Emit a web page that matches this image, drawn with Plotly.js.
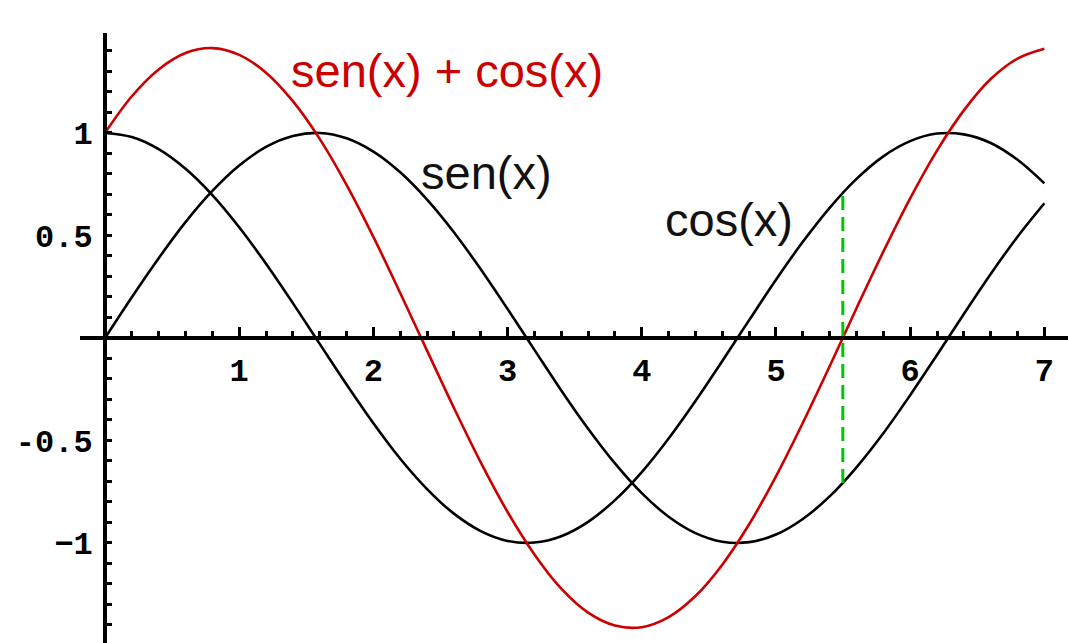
<!DOCTYPE html>
<html>
<head>
<meta charset="utf-8">
<script src="https://cdn.plot.ly/plotly-3.0.1.min.js"></script>
<style>html,body{margin:0;padding:0;background:#fff;}#chart{width:1068px;height:643px;}</style>
</head>
<body>
<div id="chart"></div>
<script>
const xs = [0,0.2,0.4,0.6,0.8,1.0,1.2,1.4,1.6,1.8,2.0,2.2,2.4,2.6,2.8,3.0,3.2,3.4,3.6,3.8,4.0,4.2,4.4,4.6,4.8,5.0,5.2,5.4,5.6,5.8,6.0,6.2,6.4,6.6,6.8,7.0];
const senValues = [0,0.199,0.389,0.565,0.717,0.841,0.932,0.985,1.000,0.974,0.909,0.808,0.675,0.516,0.335,0.141,-0.058,-0.256,-0.443,-0.612,-0.757,-0.872,-0.952,-0.994,-0.996,-0.959,-0.883,-0.773,-0.631,-0.465,-0.279,-0.083,0.117,0.312,0.494,0.657];
const cosValues = [1,0.980,0.921,0.825,0.697,0.540,0.362,0.170,-0.029,-0.227,-0.416,-0.589,-0.737,-0.857,-0.942,-0.990,-0.998,-0.967,-0.897,-0.791,-0.654,-0.490,-0.307,-0.112,0.087,0.284,0.469,0.635,0.776,0.886,0.960,0.997,0.993,0.951,0.869,0.754];
const sumValues = [1.000,1.179,1.310,1.390,1.414,1.381,1.294,1.155,0.971,0.747,0.493,0.219,-0.062,-0.341,-0.607,-0.849,-1.056,-1.223,-1.340,-1.403,-1.411,-1.362,-1.259,-1.106,-0.909,-0.675,-0.414,-0.138,0.145,0.421,0.681,0.914,1.110,1.263,1.363,1.411];
const markerX = [5.498, 5.498];
const markerY = [-0.707, 0.707];
const xTickVals = [1,2,3,4,5,6,7];
const xTickText = ['1','2','3','4','5','6','7'];
const yTickVals = [-1,-0.5,0.5,1];
const yTickText = ['\u22121','-0.5','0.5','1'];
const labelSum = 'sen(x) + cos(x)';
const labelSen = 'sen(x)';
const labelCos = 'cos(x)';

const W = 1068, H = 643;
const xRange = [-0.19, 7.176];
const yRange = [-1.488, 1.49];
const xDomain = [79.5 / W, 1];
const yDomain = [0, 1 - 32.5 / H];
const xZeroPaper = xDomain[0] + (0 - xRange[0]) / (xRange[1] - xRange[0]) * (xDomain[1] - xDomain[0]);
const yZeroPaper = yDomain[0] + (0 - yRange[0]) / (yRange[1] - yRange[0]) * (yDomain[1] - yDomain[0]);

const tickFont = {family: '"Liberation Mono", "DejaVu Sans Mono", monospace', size: 32, color: '#000', weight: 'bold'};

const traces = [
  {x: xs, y: senValues, mode: 'lines', line: {color: '#000', width: 2.6, shape: 'spline'}, hoverinfo: 'skip'},
  {x: xs, y: cosValues, mode: 'lines', line: {color: '#000', width: 2.6, shape: 'spline'}, hoverinfo: 'skip'},
  {x: xs, y: sumValues, mode: 'lines', line: {color: '#cc0000', width: 2.6, shape: 'spline'}, hoverinfo: 'skip'},
  {x: markerX, y: markerY, mode: 'lines', line: {color: '#00c800', width: 3, dash: '14px,7px'}, hoverinfo: 'skip'}
];

const layout = {
  width: W, height: H,
  margin: {l: 0, r: 0, t: 0, b: 0, pad: 0},
  paper_bgcolor: '#fff', plot_bgcolor: '#fff',
  showlegend: false,
  xaxis: {
    range: xRange, domain: xDomain, anchor: 'free', position: yZeroPaper,
    showline: true, linewidth: 4, linecolor: '#000',
    showgrid: false, zeroline: false,
    tickmode: 'array', tickvals: xTickVals, ticktext: xTickText,
    ticks: 'inside', ticklen: 9, tickwidth: 3, tickcolor: '#000',
    minor: {tickmode: 'linear', tick0: 0, dtick: 0.2, ticks: 'inside', ticklen: 5, tickwidth: 3, tickcolor: '#000', showgrid: false},
    tickfont: tickFont, ticklabelstandoff: 3
  },
  yaxis: {
    range: yRange, domain: yDomain, anchor: 'free', position: xZeroPaper,
    showline: true, linewidth: 4, linecolor: '#000',
    showgrid: false, zeroline: false,
    tickmode: 'array', tickvals: yTickVals, ticktext: yTickText,
    ticks: 'inside', ticklen: 5, tickwidth: 3, tickcolor: '#000',
    minor: {tickmode: 'linear', tick0: 0, dtick: 0.1, ticks: 'inside', ticklen: 5, tickwidth: 3, tickcolor: '#000', showgrid: false},
    tickfont: tickFont, ticklabelstandoff: 4
  },
  annotations: [
    {text: labelSum, xref: 'paper', yref: 'paper', x: 289 / W, y: 1 - 71 / H, xanchor: 'left', yanchor: 'middle', showarrow: false,
     font: {family: '"Liberation Sans", Arial, sans-serif', size: 47, color: '#cc0000'}},
    {text: labelSen, xref: 'paper', yref: 'paper', x: 419 / W, y: 1 - 172 / H, xanchor: 'left', yanchor: 'middle', showarrow: false,
     font: {family: '"Liberation Sans", Arial, sans-serif', size: 47, color: '#111'}},
    {text: labelCos, xref: 'paper', yref: 'paper', x: 663 / W, y: 1 - 219 / H, xanchor: 'left', yanchor: 'middle', showarrow: false,
     font: {family: '"Liberation Sans", Arial, sans-serif', size: 47, color: '#111'}}
  ]
};

Plotly.newPlot('chart', traces, layout, {displayModeBar: false, staticPlot: true});
</script>
</body>
</html>
